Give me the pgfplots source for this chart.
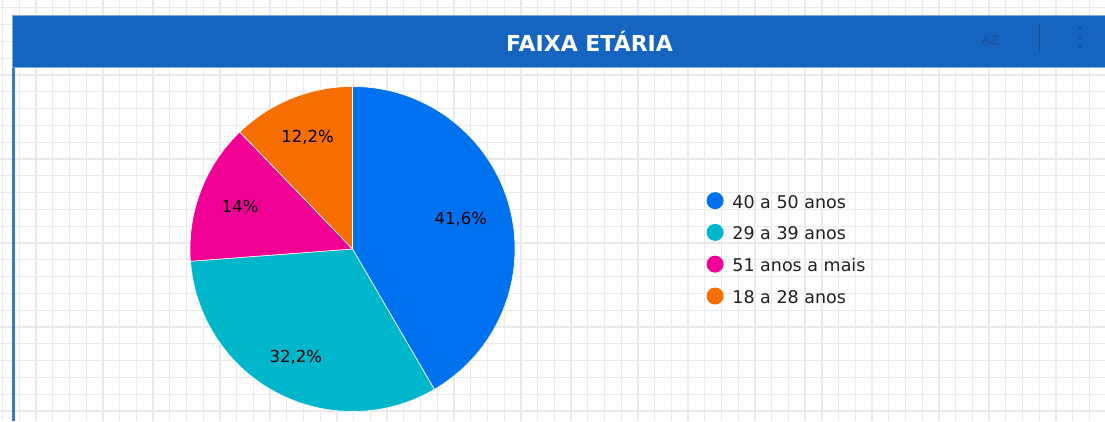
\documentclass[border=0pt]{standalone}
\usepackage{pgfplots}
\pgfplotsset{compat=1.18}
\usepgfplotslibrary{polar}
\usepackage{fontspec}
\setmainfont{DejaVu Sans}
\definecolor{pblue}{HTML}{0072F0}
\definecolor{pcyan}{HTML}{00B6CB}
\definecolor{pmag}{HTML}{F10096}
\definecolor{porange}{HTML}{F66D00}
\definecolor{hdr}{HTML}{1565C0}
\definecolor{hdredge}{HTML}{7FA8DC}
\definecolor{gridc}{HTML}{EAEAEA}
\definecolor{icon}{HTML}{1D4F96}
\begin{document}
\begin{tikzpicture}[x=1pt,y=1pt]
% slice values (percent)
\def\vA{41.6}\def\vB{32.2}\def\vC{14}\def\vD{12.2}
\pgfmathsetmacro\aA{90}
\pgfmathsetmacro\aB{\aA-3.6*\vA}
\pgfmathsetmacro\aC{\aB-3.6*\vB}
\pgfmathsetmacro\aD{\aC-3.6*\vC}
\pgfmathsetmacro\aE{\aD-3.6*\vD}
\pgfmathsetmacro\mA{(\aA+\aB)/2}
\pgfmathsetmacro\mB{(\aB+\aC)/2}
\pgfmathsetmacro\mC{(\aC+\aD)/2}
\pgfmathsetmacro\mD{(\aD+\aE)/2}
\useasboundingbox (0,0) rectangle (1105,421);
% background grid
\begin{scope}
\clip (0,0) rectangle (1105,421);
\foreach \i in {0,...,66} {\draw[gridc, line width=1.3pt] ({2.56+16.72*\i},0) -- ({2.56+16.72*\i},421);}
\foreach \j in {0,...,25} {\draw[gridc, line width=1.3pt] (0,{421-7.8-16.8*\j}) -- (1105,{421-7.8-16.8*\j});}
\end{scope}
% header bar
\fill[hdredge] (12.3,352.5) rectangle (1105,405.8);
\fill[hdr] (13.3,353.5) rectangle (1105,404.8);
\fill[hdr!85!white] (12,0) rectangle (14.6,353);
\node[anchor=base, text=white, font=\bfseries\fontsize{22}{26}\selectfont] at (589.5,369.3) {FAIXA ETÁRIA};
\node[text=icon, font=\fontsize{12}{14}\selectfont] at (990,381) {AZ};
\draw[icon, line width=0.8pt] (1039,368) -- (1039,398);
\foreach \yy in {374,383.5,393} {\fill[icon] (1080,\yy) circle (1.8);}
% pie
\begin{axis}[
  at={(190pt,9.5pt)}, anchor=south west,
  x=162.5pt, y=162.5pt,
  xmin=-1, xmax=1, ymin=-1, ymax=1,
  hide axis, clip=false, no marks,
  legend style={at={(axis description cs:1.588,0.6755)}, anchor=north west,
    draw=none, fill=none, inner sep=0pt, row sep=12.2pt,
    font=\fontsize{17.5}{20}\selectfont, text=black!88},
  legend cell align=left,
  legend image code/.code={\fill[#1, draw=none] (8.5pt,0.18em) circle (8.5pt); \path (0,0) (23.5pt,0);},
]
\addplot[fill=pblue, draw=white, line width=0.6pt, data cs=polar] coordinates {(0,0) (\aA,1)} arc[start angle=\aA, end angle=\aB, radius=162.5pt] -- cycle;
\addlegendentry{40 a 50 anos}
\addplot[fill=pcyan, draw=white, line width=0.6pt, data cs=polar] coordinates {(0,0) (\aB,1)} arc[start angle=\aB, end angle=\aC, radius=162.5pt] -- cycle;
\addlegendentry{29 a 39 anos}
\addplot[fill=pmag, draw=white, line width=0.6pt, data cs=polar] coordinates {(0,0) (\aC,1)} arc[start angle=\aC, end angle=\aD, radius=162.5pt] -- cycle;
\addlegendentry{51 anos a mais}
\addplot[fill=porange, draw=white, line width=0.6pt, data cs=polar] coordinates {(0,0) (\aD,1)} arc[start angle=\aD, end angle=\aE, radius=162.5pt] -- cycle;
\addlegendentry{18 a 28 anos}
% slice labels
\addplot[forget plot, draw=none, data cs=polar] coordinates {(\mA,0.69)} node[font=\fontsize{16.5}{19}\selectfont] {41,6\%};
\addplot[forget plot, draw=none, data cs=polar] coordinates {(\mB,0.75)} node[font=\fontsize{16.5}{19}\selectfont] {32,2\%};
\addplot[forget plot, draw=none, data cs=polar] coordinates {(\mC,0.74)} node[font=\fontsize{16.5}{19}\selectfont] {14\%};
\addplot[forget plot, draw=none, data cs=polar] coordinates {(\mD,0.74)} node[font=\fontsize{16.5}{19}\selectfont] {12,2\%};
\end{axis}
\end{tikzpicture}
\end{document}
